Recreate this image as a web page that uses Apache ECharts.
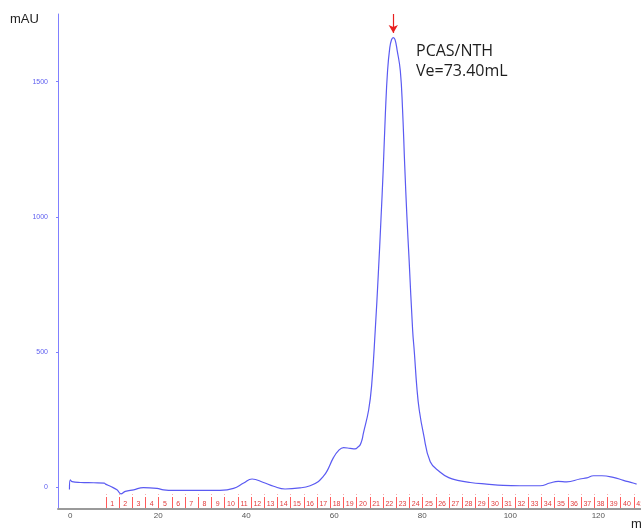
<!DOCTYPE html>
<html>
<head>
<meta charset="utf-8">
<script src="https://cdn.jsdelivr.net/npm/echarts@6/dist/echarts.min.js"></script>
<style>
    html, body { margin: 0; padding: 0; background: #fff; }
    #myChart { width: 641px; height: 530px; }
</style>
</head>
<body>
<div id="myChart"></div>
<script>
    // elution volume (mL) and absorbance (mAU)
    var volume = [-0.2, 0, 0.4, 2.3, 5.3, 7.7, 8.0, 9.1, 10.6, 11.5, 12.5, 14.4, 16.6, 19.7, 21.2, 23.5,
        29.5, 34, 37.1, 39.4, 41.3, 43.9, 46.2, 48.8, 52.2, 54.5, 56.4, 57.5, 58.3, 59.8, 60.9, 62.1,
        63.6, 64.7, 65.5, 65.9, 66.3, 66.6, 67.8, 68.5, 69.3, 70.0, 70.6, 71.1, 71.6, 72.1, 72.6, 73.0,
        73.4, 73.8, 74.3, 75.0, 75.5, 76.0, 76.5, 77.0, 77.8, 78.2, 78.75, 79.3, 80.25, 81.8, 84.0,
        86.0, 88.0, 90.9, 94.6, 98.4, 102.2, 106.8, 109.0, 110.9, 112.8, 115.8, 117.4, 118.9, 120.8,
        123.4, 125.7, 127.9, 128.7]
    var absorbance = [-8, 28, 21, 18, 17, 16, 12, 4, -9, -24, -15, -9, -1, -4, -9, -11,
        -11, -11, -4, 16, 31, 18, 4, -6, -2, 6, 22, 41, 59, 110, 135, 147,
        144, 142, 151, 158, 176, 200, 286, 380, 581, 790, 990, 1170, 1380, 1540, 1625, 1655,
        1663, 1655, 1614, 1540, 1400, 1190, 1000, 840, 581, 497, 371, 286, 199, 95, 57,
        36, 26, 18, 12, 7, 6, 6, 16, 22, 20, 31, 35, 43, 43,
        37, 26, 16, 12]

    // fraction collector marks (start volume of each fraction)
    var fractionStart = [8, 11, 14, 17, 20, 23, 26, 29, 32, 35, 38, 41, 44, 47, 50, 53, 56, 59, 62, 65,
        68, 71, 74, 77, 80, 83, 86, 89, 92, 95, 98, 101, 104, 107, 110, 113, 116, 119, 122, 125, 128]
    var fractionLabel = ['1', '2', '3', '4', '5', '6', '7', '8', '9', '10', '11', '12', '13', '14', '15',
        '16', '17', '18', '19', '20', '21', '22', '23', '24', '25', '26', '27', '28', '29', '30', '31',
        '32', '33', '34', '35', '36', '37', '38', '39', '40', '41']
    var fractionWidth = 3

    var xTicks = [0, 20, 40, 60, 80, 100, 120]
    var yTicks = [0, 500, 1000, 1500]

    var peakVolume = 73.4
    var peakName = 'PCAS/NTH'

    var xMin = -2.8, xMax = 129.7
    var yMin = -80, yMax = 1750

    var lineData = []
    for (var i = 0; i < volume.length; i++) {
        lineData.push([volume[i], absorbance[i]])
    }
    var fracData = []
    for (var j = 0; j < fractionStart.length; j++) {
        fracData.push([fractionStart[j], fractionLabel[j]])
    }

    var myChart = echarts.init(document.getElementById('myChart'), null, {renderer: 'canvas'})
    myChart.setOption({
        animation: false,
        grid: {left: 58, right: 0, top: 14, bottom: 21},
        xAxis: {
            type: 'value',
            min: xMin,
            max: xMax,
            axisLine: {show: true, onZero: false, lineStyle: {color: '#9a9a9a', width: 2}},
            axisTick: {show: false},
            splitLine: {show: false},
            axisLabel: {
                customValues: xTicks,
                formatter: function (v) { return String(v) },
                color: '#555',
                fontSize: 8,
                margin: 3,
                fontFamily: 'Liberation Sans'
            }
        },
        yAxis: {
            type: 'value',
            min: yMin,
            max: yMax,
            axisLine: {show: true, onZero: false, lineStyle: {color: '#8080ff', width: 1}},
            axisTick: {show: true, customValues: yTicks, length: 2, lineStyle: {color: '#8080ff'}},
            splitLine: {show: false},
            axisLabel: {
                customValues: yTicks,
                formatter: function (v) { return String(v) },
                color: '#6060f0',
                fontSize: 7,
                margin: 10,
                fontFamily: 'Liberation Sans'
            }
        },
        series: [{
            type: 'line',
            data: lineData,
            showSymbol: false,
            smooth: 0.45,
            lineStyle: {color: '#5a5af2', width: 1.2},
            markLine: {
                silent: true,
                symbol: ['none', 'arrow'],
                symbolSize: [7, 8],
                label: {show: false},
                lineStyle: {color: '#e82020', width: 1.2, type: 'solid'},
                data: [[{coord: [peakVolume, yMax]}, {coord: [peakVolume, 1680]}]]
            }
        }, {
            type: 'custom',
            clip: true,
            data: fracData,
            renderItem: function (params, api) {
                var x0 = api.value(0)
                var p = api.coord([x0, yMin])
                var mid = api.coord([x0 + fractionWidth / 2, yMin])
                var px = Math.round(p[0])
                return {
                    type: 'group',
                    children: [{
                        type: 'rect',
                        shape: {x: px, y: p[1] - 12, width: 1, height: 11},
                        style: {fill: '#ff5a5a'}
                    }, {
                        type: 'rect',
                        shape: {x: px, y: p[1] - 15, width: 1, height: 1},
                        style: {fill: '#f8b0b0'}
                    }, {
                        type: 'text',
                        style: {
                            text: fracData[params.dataIndex][1],
                            x: mid[0],
                            y: p[1] - 5,
                            align: 'center',
                            verticalAlign: 'middle',
                            fontSize: 7,
                            fontFamily: 'Liberation Sans',
                            fill: '#e03a3a'
                        }
                    }]
                }
            }
        }],
        graphic: [{
            type: 'text',
            left: 10,
            top: 13,
            style: {text: 'mAU', fontSize: 13, fontFamily: 'Liberation Sans', fill: '#222'}
        }, {
            type: 'text',
            left: 631,
            top: 518,
            style: {text: 'mL', fontSize: 13, fontFamily: 'Liberation Sans', fill: '#222'}
        }, {
            type: 'text',
            left: 416,
            top: 41,
            style: {
                text: peakName + '\nVe=' + peakVolume.toFixed(2) + 'mL',
                fontSize: 16,
                lineHeight: 20,
                fontFamily: 'Open Sans',
                fill: '#1e1e1e'
            }
        }]
    })
</script>
</body>
</html>
